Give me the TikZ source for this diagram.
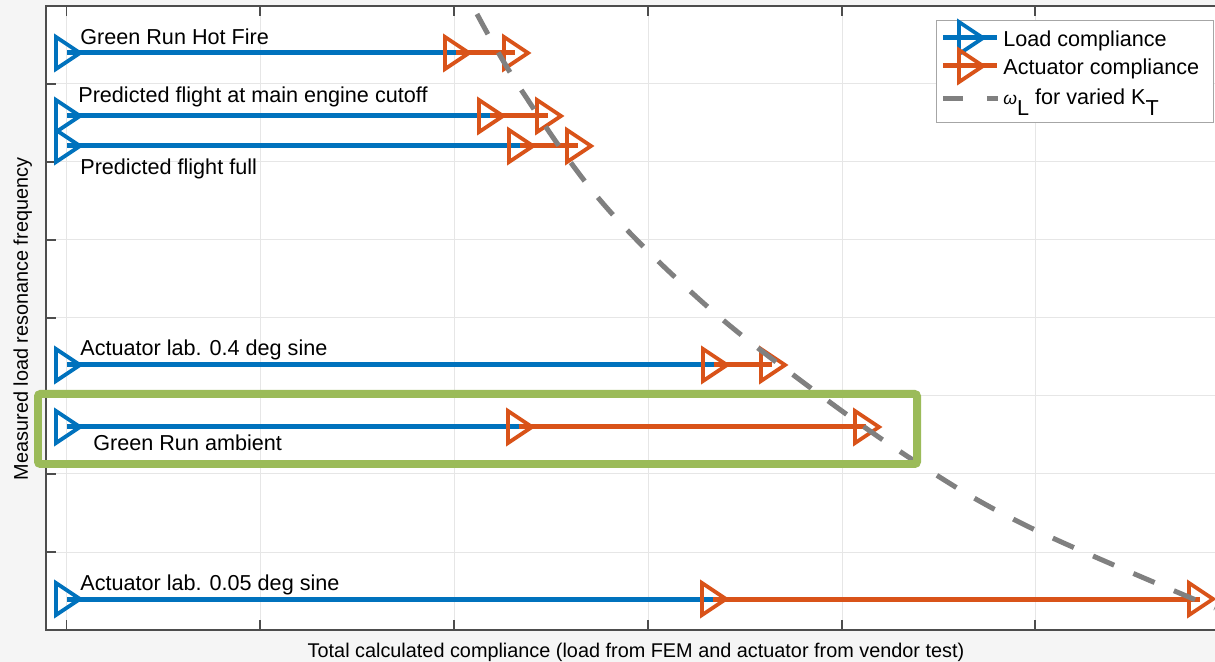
\documentclass[tikz,border=0pt]{standalone}
\usepackage{fontspec}
\setmainfont{Liberation Sans}
\usepackage{tikz}

\definecolor{loadblue}{HTML}{0072BD}
\definecolor{actorange}{HTML}{D95319}
\definecolor{boxgreen}{HTML}{9BBB59}
\definecolor{figgray}{HTML}{F5F5F5}
\definecolor{gridgray}{HTML}{E6E6E6}
\definecolor{axisgray}{HTML}{4D4D4D}
\definecolor{omegagray}{HTML}{808080}

\tikzset{
  load/.style={loadblue, line width=0.1cm},
  act/.style={actorange, line width=0.1cm},
  lbl/.style={anchor=base west, inner sep=0pt, font=\fontsize{12.3}{14}\selectfont},
  axlbl/.style={inner sep=0pt, font=\fontsize{11.3}{13}\selectfont},
  wl/.style={omegagray, line width=0.1cm, dash pattern=on 0.46cm off 0.42cm},
  tri/.pic={\draw[line width=0.075cm, line join=miter] (-11,-16) -- (13,0) -- (-11,16) -- cycle;}
}

\begin{document}
\begin{tikzpicture}[x=0.02cm, y=-0.02cm]
        \useasboundingbox (0,0) rectangle (1215,662);
        \fill [figgray] (0,0) rectangle (1215,662);

        % axes
        \fill [white] (46,6) rectangle (1215,630);
        \foreach \gx in {66.5,260,454,648,842,1035}
          \draw [gridgray, line width=0.02cm] (\gx,6) -- (\gx,630);
        \foreach \gy in {84,162,240,318,396,474,552}
          \draw [gridgray, line width=0.02cm] (46,\gy) -- (1215,\gy);
        \draw [axisgray, line width=0.03cm] (1215,6) -- (46,6) -- (46,630) -- (1215,630);
        \foreach \gx in {66.5,260,454,648,842,1035} {
          \draw [axisgray, line width=0.03cm] (\gx,630) -- (\gx,620);
          \draw [axisgray, line width=0.03cm] (\gx,6) -- (\gx,16);
        }
        \foreach \gy in {84,162,240,318,396,474,552}
          \draw [axisgray, line width=0.03cm] (46,\gy) -- (56,\gy);

        % axis labels
        \node [axlbl, anchor=base] (xlabel) at (636,657)
          {Total calculated compliance (load from FEM and actuator from vendor test)};
        \node [axlbl, anchor=base, rotate=90] (ylabel) at (28,319)
          {Measured load resonance frequency};

        % data points
        \coordinate (hs) at (67,53);   \coordinate (hm) at (456,53);  \coordinate (he) at (515,53);
        \coordinate (cs) at (67,116);  \coordinate (cm) at (490,116); \coordinate (ce) at (548,116);
        \coordinate (fs) at (67,146);  \coordinate (fm) at (520,146); \coordinate (fe) at (578,146);
        \coordinate (ss) at (67,365);  \coordinate (sm) at (714,365); \coordinate (se) at (772,365);
        \coordinate (as) at (67,427);  \coordinate (am) at (519,427); \coordinate (ae) at (866,427);
        \coordinate (ts) at (67,599);  \coordinate (tm) at (713,599); \coordinate (te) at (1200,599);

        % load compliance
        \foreach \r in {h,c,f,s,a,t}
          \draw [load] (\r s) -- (\r m);
        % actuator compliance
        \foreach \r in {h,c,f,s,a,t}
          \draw [act] (\r m) -- (\r e);

        % markers
        \foreach \r in {h,c,f,s,a,t} {
          \pic [loadblue] at (\r s) {tri};
          \pic [actorange] at (\r m) {tri};
          \pic [actorange] at (\r e) {tri};
        }

        % labels
        \node [lbl] (hot) at (80,45) {Green Run Hot Fire};
        \node [lbl] (meco) at (78,103) {Predicted flight at main engine cutoff};
        \node [lbl] (full) at (80,175) {Predicted flight full};
        \node [lbl] (sine4) at (80,356) {Actuator lab. 0.4 deg sine};
        \node [lbl] (amb) at (93,451) {Green Run ambient};
        \node [lbl] (sine05) at (80,590) {Actuator lab. 0.05 deg sine};

        % omega_L for varied K_T
        \draw [wl] plot [smooth, tension=0.6]
          coordinates{(477,14) (520,88) (600,200) (700,300) (800,380) (913,460) (1027,526) (1215,608)};

        % highlighted case
        \draw [boxgreen, line width=0.16cm, rounded corners=0.05cm] (38,394) rectangle (917,464);

        % legend
        \draw [fill=white, draw=gray!70, line width=0.02cm] (936,21) rectangle (1213,123);
        \coordinate (l1a) at (943,38); \coordinate (l1b) at (997,38);
        \coordinate (l2a) at (943,66); \coordinate (l2b) at (997,66);
        \coordinate (l3a) at (943,99); \coordinate (l3b) at (998,99);
        \draw [load] (l1a) -- (l1b);
        \pic [loadblue] at (970,38) {tri};
        \draw [act] (l2a) -- (l2b);
        \pic [actorange] at (970,66) {tri};
        \draw [omegagray, line width=0.1cm, dash pattern=on 0.4cm off 0.48cm] (l3a) -- (l3b);
        \node [lbl] (leg1) at (1003,47) {Load compliance};
        \node [lbl] (leg2) at (1003,75) {Actuator compliance};
        \node [lbl] (leg3) at (1003,105)
          {{\itshape\fontsize{10}{10}\selectfont ω}\raisebox{-0.5em}{L} for varied K\raisebox{-0.5em}{T}};

      \end{tikzpicture}
\end{document}
